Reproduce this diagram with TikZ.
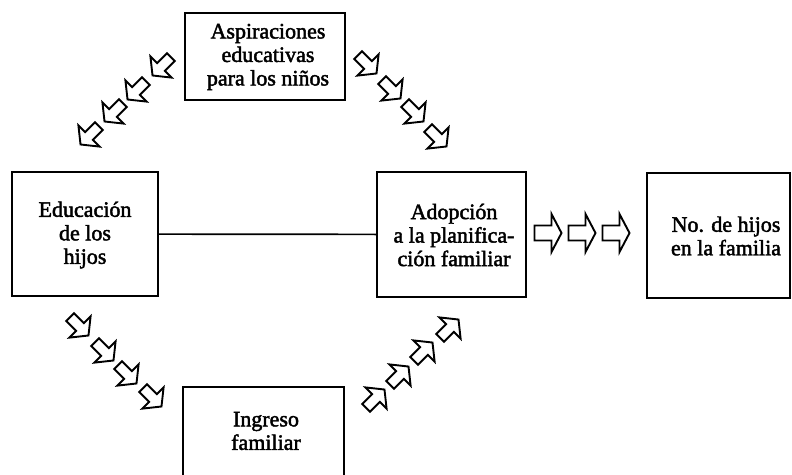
\documentclass[tikz,border=0pt]{standalone}
\usepackage{fontspec}
\setmainfont{Liberation Serif}[FakeBold=2]
\begin{document}
\begin{tikzpicture}[x=1pt,y=-1pt,
  box/.style={draw=black,line width=2pt,fill=white,inner sep=0pt},
  txt/.style={align=center,inner sep=0pt,font=\fontsize{22}{23.5}\selectfont},
  link/.style={draw=black,line width=1.7pt},
  arrowline/.style={draw=black,line width=1.9pt,fill=white,line join=miter},
  pics/diagarrow/.style={code={\draw[arrowline] (-14,-5.5) -- (0,-5.5) -- (0,-15) -- (12,0) -- (0,15) -- (0,5.5) -- (-14,5.5) -- cycle;}},
  pics/horarrow/.style={code={\draw[arrowline] (-13.5,-7.5) -- (3.5,-7.5) -- (3.5,-19) -- (13.5,0) -- (3.5,19) -- (3.5,7.5) -- (-13.5,7.5) -- cycle;}}
]
\useasboundingbox (0,0) rectangle (792,474);
\clip (0,0) rectangle (792,474);

% boxes
\node[box,minimum width=160pt,minimum height=87pt] (asp) at (265,56.5) {};
\node[box,minimum width=146pt,minimum height=124pt] (edu) at (85,234) {};
\node[box,minimum width=149pt,minimum height=125pt] (adop) at (451.5,234.5) {};
\node[box,minimum width=143pt,minimum height=125pt] (hijos) at (718.5,235.5) {};
\node[box,minimum width=161pt,minimum height=102pt] (ing) at (263.5,438) {};

% texts
\node[txt] (aspt) at (268,57) {Aspiraciones\\educativas\\para los niños};
\node[txt] (edut) at (85,235) {Educación\\de los\\hijos};
\node[txt] (adopt) at (454,235) {Adopción\\a la planifica-\\ción familiar};
\node[txt] (hijost) at (726,236) {No. de hijos\\en la familia};
\node[txt] (ingt) at (266,431) {Ingreso\\familiar};

% connector
\draw[link] (edu) -- (adop);

% upper-left arrows (down-left)
\pic[rotate=-135] at (161,67) {diagarrow};
\pic[rotate=-135] at (136,91) {diagarrow};
\pic[rotate=-135] at (113,113) {diagarrow};
\pic[rotate=-135] at (89,136) {diagarrow};

% upper-right arrows (down-right)
\pic[rotate=-45] at (368,65) {diagarrow};
\pic[rotate=-45] at (392,90) {diagarrow};
\pic[rotate=-45] at (415,113) {diagarrow};
\pic[rotate=-45] at (438,138) {diagarrow};

% lower-left arrows (down-right)
\pic[rotate=-45] at (80,327) {diagarrow};
\pic[rotate=-45] at (105,352) {diagarrow};
\pic[rotate=-45] at (128,375) {diagarrow};
\pic[rotate=-45] at (153,398) {diagarrow};

% lower-right arrows (up-right)
\pic[rotate=45] at (450,328) {diagarrow};
\pic[rotate=45] at (424,351) {diagarrow};
\pic[rotate=45] at (400,375) {diagarrow};
\pic[rotate=45] at (376,398) {diagarrow};

% horizontal arrows
\pic at (548,233) {horarrow};
\pic at (582,233) {horarrow};
\pic at (616,233) {horarrow};
\end{tikzpicture}
\end{document}
